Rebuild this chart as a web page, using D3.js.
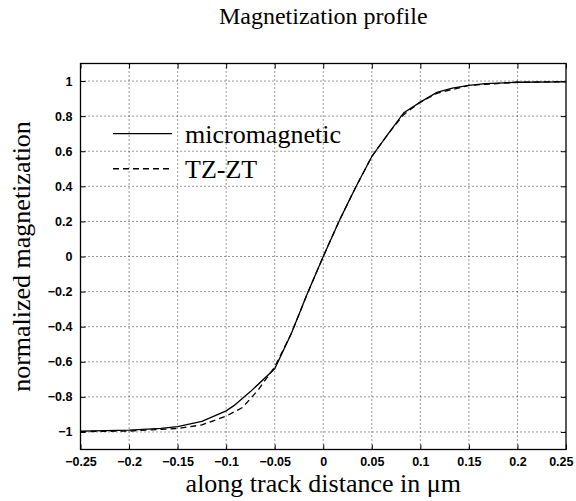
<!DOCTYPE html>
<html><head><meta charset="utf-8">
<script src="https://cdn.jsdelivr.net/npm/d3@7"></script>
<style>body{margin:0;background:#fff}</style>
</head><body>
<script>
const xTicks = [-0.25,-0.2,-0.15,-0.1,-0.05,0,0.05,0.1,0.15,0.2,0.25];
const yTicks = [-1,-0.8,-0.6,-0.4,-0.2,0,0.2,0.4,0.6,0.8,1];
const microX = [-0.25,-0.2,-0.167,-0.15,-0.125,-0.1,-0.092,-0.075,-0.05,-0.033,-0.025,-0.017,0,0.017,0.025,0.033,0.05,0.067,0.083,0.1,0.117,0.133,0.15,0.167,0.2,0.25];
const microY = [-0.995,-0.99,-0.98,-0.97,-0.94,-0.88,-0.85,-0.77,-0.64,-0.44,-0.33,-0.22,0.0,0.21,0.3,0.39,0.57,0.7,0.82,0.88,0.935,0.96,0.975,0.985,0.993,0.995];
const tzX = [-0.25,-0.2,-0.15,-0.125,-0.1,-0.083,-0.067,-0.05,-0.033,-0.017,0,0.017,0.033,0.05,0.067,0.083,0.1,0.117,0.15,0.2,0.25];
const tzY = [-0.998,-0.995,-0.98,-0.96,-0.91,-0.86,-0.76,-0.63,-0.44,-0.22,0.0,0.21,0.39,0.57,0.7,0.81,0.88,0.93,0.975,0.993,0.997];
const legendLabels = ["micromagnetic","TZ-ZT"];

const W=576,H=501;
const L=80.5,R=566,T=63.5,B=449.5;
const svg=d3.select("body").append("svg").attr("width",W).attr("height",H);
const x=d3.scaleLinear().domain([-0.25,0.25]).range([L,R]);
const y=d3.scaleLinear().domain([-1.1,1.1]).range([B,T]);
const serif="'Liberation Serif','Times New Roman',serif";
const sans="'Liberation Sans',Arial,sans-serif";

// grid
const g=svg.append("g");
g.selectAll(".vg").data(xTicks.slice(1,-1)).join("line")
 .attr("x1",d=>x(d)).attr("x2",d=>x(d)).attr("y1",T).attr("y2",B)
 .attr("stroke","#000").attr("stroke-width",0.8).attr("stroke-dasharray","1,3");
g.selectAll(".hg").data(yTicks).join("line")
 .attr("y1",d=>y(d)).attr("y2",d=>y(d)).attr("x1",L).attr("x2",R)
 .attr("stroke","#000").attr("stroke-width",0.8).attr("stroke-dasharray","1,3");

// axes
const fmt=d=>d3.format("")(d).replace("-","\u2013");
const xa=svg.append("g").attr("transform",`translate(0,${B})`)
 .call(d3.axisBottom(x).tickValues(xTicks).tickSizeInner(-5).tickSizeOuter(0).tickPadding(8).tickFormat(fmt));
const xa2=svg.append("g").attr("transform",`translate(0,${T})`)
 .call(d3.axisTop(x).tickValues(xTicks).tickSizeInner(-5).tickSizeOuter(0).tickFormat(""));
const ya=svg.append("g").attr("transform",`translate(${L},0)`)
 .call(d3.axisLeft(y).tickValues(yTicks).tickSizeInner(-5).tickSizeOuter(0).tickPadding(8).tickFormat(fmt));
const ya2=svg.append("g").attr("transform",`translate(${R},0)`)
 .call(d3.axisRight(y).tickValues(yTicks).tickSizeInner(-5).tickSizeOuter(0).tickFormat(""));
[xa,xa2,ya,ya2].forEach(a=>{
 a.select(".domain").remove();
 a.selectAll("line").attr("stroke","#000").attr("stroke-width",1);
 a.selectAll("text").attr("font-family",sans).attr("font-size",12.5).attr("fill","#000").attr("font-weight","bold");
});
// keep the last x label inside the picture
xa.selectAll(".tick text").filter(d=>Math.abs(d-0.25)<1e-9).attr("text-anchor","end").attr("x",7);
svg.append("rect").attr("x",L).attr("y",T).attr("width",R-L).attr("height",B-T)
 .attr("fill","none").attr("stroke","#000").attr("stroke-width",1.3);

// curves
const line=d3.line().x(d=>x(d[0])).y(d=>y(d[1]));
svg.append("path").datum(microX.map((v,i)=>[v,microY[i]])).attr("d",line)
 .attr("fill","none").attr("stroke","#000").attr("stroke-width",1.3);
svg.append("path").datum(tzX.map((v,i)=>[v,tzY[i]])).attr("d",line)
 .attr("fill","none").attr("stroke","#000").attr("stroke-width",1.3).attr("stroke-dasharray","6,4");

// legend
const lg=svg.append("g");
legendLabels.forEach((t,i)=>{
 const yy=y(0.7-0.2*i);
 lg.append("line").attr("x1",113).attr("x2",172).attr("y1",yy).attr("y2",yy)
  .attr("stroke","#000").attr("stroke-width",1.3).attr("stroke-dasharray",i?"6,4":null);
 lg.append("text").attr("x",185).attr("y",yy).attr("dy","0.35em").text(t)
  .attr("font-family",serif).attr("font-size",26);
});

// titles
svg.append("text").attr("x",(L+R)/2).attr("y",24).attr("text-anchor","middle")
 .attr("font-family",serif).attr("font-size",24).text("Magnetization profile");
svg.append("text").attr("x",(L+R)/2).attr("y",492).attr("text-anchor","middle")
 .attr("font-family",serif).attr("font-size",26).text("along track distance in \u03bcm");
svg.append("text").attr("transform",`translate(30,${(T+B)/2}) rotate(-90)`).attr("text-anchor","middle")
 .attr("font-family",serif).attr("font-size",26).text("normalized magnetization");
</script>
</body></html>
